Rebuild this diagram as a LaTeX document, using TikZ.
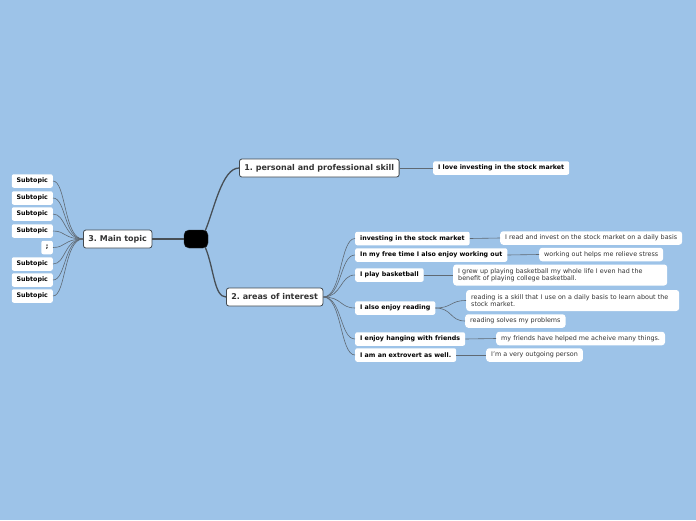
\documentclass[tikz,border=0pt]{standalone}
\usepackage{fontspec}
\setmainfont{DejaVu Sans}
\frenchspacing
\definecolor{bg}{RGB}{157,195,232}
\definecolor{ln}{RGB}{95,105,115}
\definecolor{tx}{RGB}{51,51,51}
\tikzset{
 topic/.style={draw=ln!70!black, line width=0.8pt, fill=white, rounded corners=2.5pt, text=tx, font=\bfseries\fontsize{8}{9}\selectfont, minimum height=18pt, inner xsep=5pt, anchor=west},
 child/.style={fill=white, rounded corners=2pt, text=black, font=\bfseries\fontsize{6.3}{7}\selectfont, minimum height=13.5pt, inner xsep=5pt, anchor=west},
 leaf/.style={fill=white, rounded corners=3pt, text=tx, font=\fontsize{6.4}{7.2}\selectfont, minimum height=13.5pt, inner xsep=5pt, anchor=west, align=left},
 conn/.style={draw=ln, line width=0.6pt},
 main/.style={draw=ln!75!black, line width=1.3pt},
}
\begin{document}
\begin{tikzpicture}[x=1pt,y=-1pt]
\fill[bg] (0,0) rectangle (696,520);
\useasboundingbox (0,0) rectangle (696,520);
% central
\node[fill=black, draw=ln!40!black, rounded corners=5pt, minimum width=24pt, minimum height=18pt] (c) at (196,239) {};
% main topics
\node[topic] (t1) at (239,168) {1. personal and professional skill};
\node[topic] (t2) at (226,297) {2. areas of interest};
\node[topic] (t3) at (83,239) {3. Main topic};
\draw[main] (c.north east) ++(-3,1) .. controls (214,210) and (222,168) .. (t1.west);
\draw[main] (c.south east) ++(-3,-1) .. controls (214,268) and (214,297) .. (t2.west);
\draw[main] (c.west) -- (t3.east);
% topic 1
\node[child] (l1) at (433,168) {I love investing in the stock market};
\draw[conn] (t1.east) -- (l1.west);
% topic 3 subtopics
\foreach \n/\y/\t in {s1/181/Subtopic,s2/198/Subtopic,s3/214/Subtopic,s4/231/Subtopic,s6/264/Subtopic,s7/280/Subtopic,s8/296/Subtopic}{
  \node[child, minimum width=41pt, inner xsep=2pt, anchor=east] (\n) at (53,\y) {\t};
  \draw[conn] (t3.west) .. controls (64,239) and (66,\y) .. (\n.east);
}
\node[child, anchor=east, inner xsep=3pt, minimum width=11.5pt] (s5) at (53,247.5) {;};
\draw[conn] (t3.west) .. controls (64,239) and (66,247.5) .. (s5.east);
% topic 2 children
\node[child] (c1) at (355,238.5) {investing in the stock market};
\node[child] (c2) at (355,255) {In my free time I also enjoy working out};
\node[child] (c3) at (355,275) {I play basketball};
\node[child] (c4) at (355,308) {I also enjoy reading};
\node[child] (c5) at (355,339) {I enjoy hanging with friends};
\node[child] (c6) at (355,355) {I am an extrovert as well.};
\foreach \n in {c1,c2,c3,c4,c5,c6}{
  \draw[conn] (t2.east) .. controls (342,297) and (340,0|-\n.west) .. (\n.west);
}
% leaves
\node[leaf] (d1) at (500,238) {I read and invest on the stock market on a daily basis};
\node[leaf] (d2) at (539,254.5) {working out helps me relieve stress};
\node[leaf, minimum height=21pt, text width=204pt] (d3) at (453,275) {I grew up playing basketball my whole life I even had the\\benefit of playing college basketball.};
\node[leaf, minimum height=21pt, text width=203pt] (d4) at (466,300.5) {reading is a skill that I use on a daily basis to learn about the\\stock market.};
\node[leaf] (d5) at (465,321) {reading solves my problems};
\node[leaf] (d6) at (496,338.5) {my friends have helped me acheive many things.};
\node[leaf] (d7) at (486,355) {I'm a very outgoing person};
\draw[conn] (c1.east) -- (d1.west);
\draw[conn] (c2.east) -- (d2.west);
\draw[conn] (c3.east) -- (d3.west);
\draw[conn] (c4.east) .. controls (452,308) and (450,300.5) .. (d4.west);
\draw[conn] (c4.east) .. controls (452,308) and (450,321) .. (d5.west);
\draw[conn] (c5.east) -- (d6.west);
\draw[conn] (c6.east) -- (d7.west);
\end{tikzpicture}
\end{document}
